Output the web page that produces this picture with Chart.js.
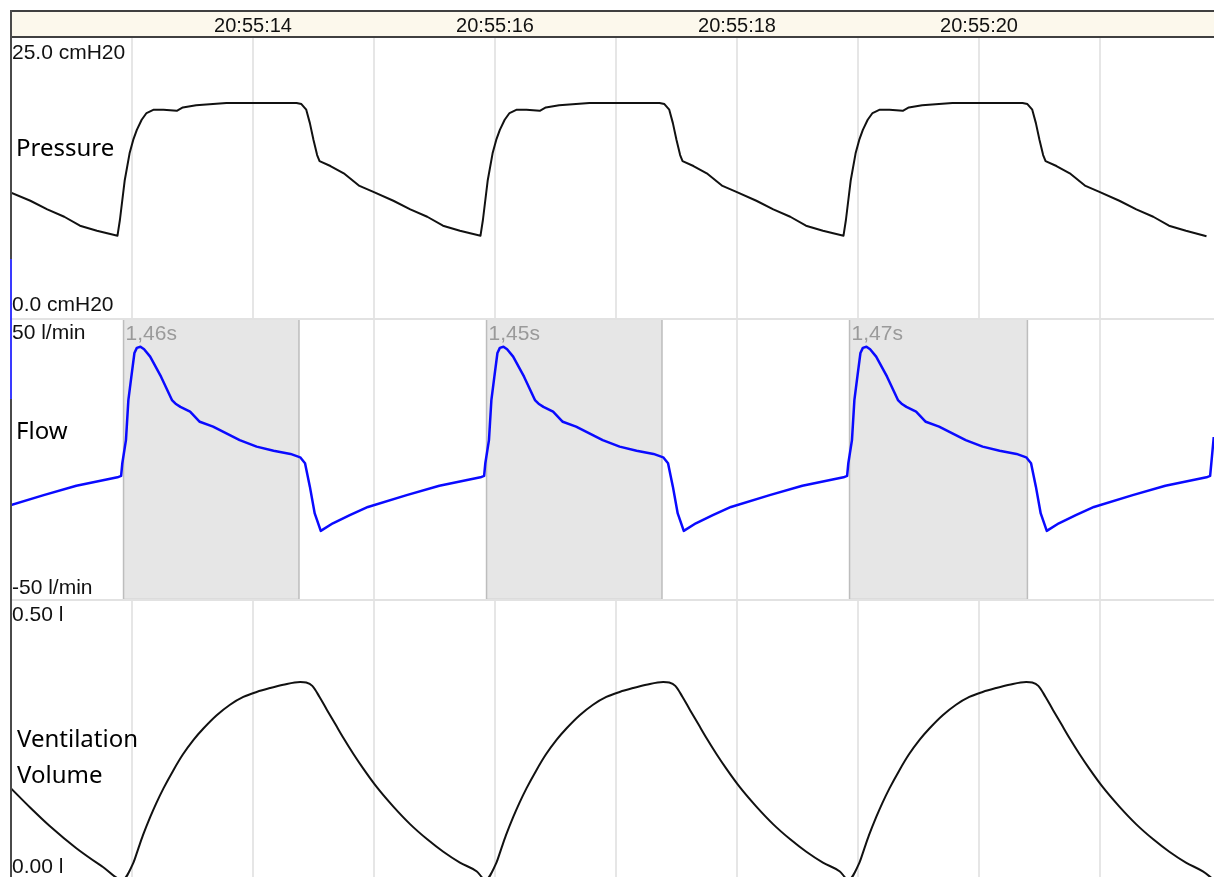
<!DOCTYPE html>
<html>
<head>
<meta charset="utf-8">
<script src="https://cdn.jsdelivr.net/npm/chart.js@4/dist/chart.umd.min.js"></script>
<style>
  body { margin: 0; background: #fff; }
  #wrap { position: relative; width: 1214px; height: 877px; overflow: hidden; background: #fff; }
  canvas { position: absolute; left: 11px; }
  .name { position: absolute; font-family: 'Noto Sans', sans-serif; font-size: 24px; line-height: 24px; color: #000; white-space: nowrap; }
  .deco { position: absolute; }
</style>
</head>
<body>
<div id="wrap">
  <div class="deco" style="left:10px; top:10px; width:1204px; height:28px; box-sizing:border-box; background:#fcf8ec; border-top:2px solid #404040; border-bottom:2px solid #404040;"></div>
  <canvas id="pressureChart" width="1203" height="318" style="top:0px;"></canvas>
  <canvas id="flowChart" width="1203" height="282" style="top:318px;"></canvas>
  <canvas id="volumeChart" width="1203" height="277" style="top:600px;"></canvas>
  <div class="deco" style="left:11px; top:318px; width:1203px; height:2px; background:#e2e2e2;"></div>
  <div class="deco" style="left:11px; top:599px; width:1203px; height:2px; background:#e2e2e2;"></div>
  <div class="deco" style="left:10px; top:10px; width:2px; height:867px; background:#4a4a4a;"></div>
  <div class="deco" style="left:10px; top:259px; width:2px; height:140px; background:#3a3aff;"></div>
  <div class="name" style="left:16px; top:135px;">Pressure</div>
  <div class="name" style="left:16px; top:418px;">Flow</div>
  <div class="name" style="left:17px; top:726px;">Ventilation</div>
  <div class="name" style="left:17px; top:762px;">Volume</div>
</div>
<script>
// time axis, in seconds after 20:55:00
const xMin = 12;
const xMax = 21.942;
const gridSeconds = [12, 13, 14, 15, 16, 17, 18, 19, 20, 21];
const labelSeconds = [14, 16, 18, 20];
const timeLabels = ['20:55:14', '20:55:16', '20:55:18', '20:55:20'];

// y ranges of the three panels
const pressureRange = [0, 25];
const flowRange = [-50, 50];
const volumeRange = [0, 0.5];

// pressure (cmH2O)
const pressureTime = [12.00, 12.16, 12.30, 12.44, 12.57, 12.71, 12.88,
  12.90, 12.94, 12.98, 13.01, 13.04, 13.08, 13.12, 13.18, 13.26, 13.37, 13.42, 13.53, 13.78, 14.36, 14.40, 14.44, 14.47, 14.50, 14.53, 14.55,
  14.64, 14.75, 14.88, 14.99, 15.16, 15.30, 15.44, 15.57, 15.71, 15.88,
  15.90, 15.94, 15.98, 16.01, 16.04, 16.08, 16.12, 16.18, 16.26, 16.37, 16.42, 16.53, 16.78, 17.36, 17.40, 17.44, 17.47, 17.50, 17.53, 17.55,
  17.64, 17.75, 17.88, 17.99, 18.16, 18.30, 18.44, 18.57, 18.71, 18.88,
  18.90, 18.94, 18.98, 19.01, 19.04, 19.08, 19.12, 19.18, 19.26, 19.37, 19.42, 19.53, 19.78, 20.36, 20.40, 20.44, 20.47, 20.50, 20.53, 20.55,
  20.64, 20.75, 20.88, 20.99, 21.16, 21.30, 21.44, 21.57, 21.71, 21.88];
const pressureValue = [11.2, 10.47, 9.70, 9.04, 8.24, 7.79, 7.35,
  8.75, 12.3, 14.7, 15.9, 16.8, 17.7, 18.3, 18.6, 18.6, 18.5, 18.8, 19.0, 19.2, 19.2, 19.1, 18.6, 17.4, 15.9, 14.55, 14.0,
  13.57, 12.92, 11.79, 11.28, 10.47, 9.70, 9.04, 8.24, 7.79, 7.35,
  8.75, 12.3, 14.7, 15.9, 16.8, 17.7, 18.3, 18.6, 18.6, 18.5, 18.8, 19.0, 19.2, 19.2, 19.1, 18.6, 17.4, 15.9, 14.55, 14.0,
  13.57, 12.92, 11.79, 11.28, 10.47, 9.70, 9.04, 8.24, 7.79, 7.35,
  8.75, 12.3, 14.7, 15.9, 16.8, 17.7, 18.3, 18.6, 18.6, 18.5, 18.8, 19.0, 19.2, 19.2, 19.1, 18.6, 17.4, 15.9, 14.55, 14.0,
  13.57, 12.92, 11.79, 11.28, 10.47, 9.70, 9.04, 8.24, 7.79, 7.3];

// flow (l/min)
const flowTime = [12.00, 12.27, 12.54, 12.88, 12.91,
  12.92, 12.95, 12.97, 13.00, 13.02, 13.04, 13.07, 13.10, 13.15, 13.24, 13.33, 13.36, 13.40, 13.48, 13.56, 13.67, 13.78, 13.89, 14.03, 14.17, 14.31, 14.39,
  14.43, 14.47, 14.51, 14.56, 14.66, 14.80, 14.95, 15.27, 15.54, 15.88, 15.91,
  15.92, 15.95, 15.97, 16.00, 16.02, 16.04, 16.07, 16.10, 16.15, 16.24, 16.33, 16.36, 16.40, 16.48, 16.56, 16.67, 16.78, 16.89, 17.03, 17.17, 17.31, 17.39,
  17.43, 17.47, 17.51, 17.56, 17.66, 17.80, 17.95, 18.27, 18.54, 18.88, 18.91,
  18.92, 18.95, 18.97, 19.00, 19.02, 19.04, 19.07, 19.10, 19.15, 19.24, 19.33, 19.36, 19.40, 19.48, 19.56, 19.67, 19.78, 19.89, 20.03, 20.17, 20.31, 20.39,
  20.43, 20.47, 20.51, 20.56, 20.66, 20.80, 20.95, 21.27, 21.54, 21.88, 21.91,
  21.92, 21.94];
const flowValue = [-16.3, -12.8, -9.5, -6.5, -6.0,
  -1.5, 6.7, 20.9, 31.0, 37.6, 39.4, 39.8, 38.9, 36.3, 29.2, 20.9, 19.6, 18.5, 16.8, 13.2, 11.5, 9.1, 6.7, 4.4, 2.9, 1.8, 0.6,
  -1.5, -9.8, -19.3, -25.5, -22.8, -19.9, -17.0, -12.8, -9.5, -6.5, -6.0,
  -1.5, 6.7, 20.9, 31.0, 37.6, 39.4, 39.8, 38.9, 36.3, 29.2, 20.9, 19.6, 18.5, 16.8, 13.2, 11.5, 9.1, 6.7, 4.4, 2.9, 1.8, 0.6,
  -1.5, -9.8, -19.3, -25.5, -22.8, -19.9, -17.0, -12.8, -9.5, -6.5, -6.0,
  -1.5, 6.7, 20.9, 31.0, 37.6, 39.4, 39.8, 38.9, 36.3, 29.2, 20.9, 19.6, 18.5, 16.8, 13.2, 11.5, 9.1, 6.7, 4.4, 2.9, 1.8, 0.6,
  -1.5, -9.8, -19.3, -25.5, -22.8, -19.9, -17.0, -12.8, -9.5, -6.5, -6.0,
  -1.5, 7.8];

// ventilation volume (l)
const volumeTime = [12.00, 12.16, 12.32, 12.54, 12.76, 12.92,
  13.01, 13.05, 13.09, 13.15, 13.20, 13.26, 13.34, 13.42, 13.51, 13.59, 13.70, 13.81, 13.92, 14.03, 14.14, 14.25, 14.39, 14.44,
  14.49, 14.55, 14.61, 14.68, 14.75, 14.83, 14.91, 15.02, 15.16, 15.30, 15.44, 15.57, 15.71, 15.85, 15.92,
  16.01, 16.05, 16.09, 16.15, 16.20, 16.26, 16.34, 16.42, 16.51, 16.59, 16.70, 16.81, 16.92, 17.03, 17.14, 17.25, 17.39, 17.44,
  17.49, 17.55, 17.61, 17.68, 17.75, 17.83, 17.91, 18.02, 18.16, 18.30, 18.44, 18.57, 18.71, 18.85, 18.92,
  19.01, 19.05, 19.09, 19.15, 19.20, 19.26, 19.34, 19.42, 19.51, 19.59, 19.70, 19.81, 19.92, 20.03, 20.14, 20.25, 20.39, 20.44,
  20.49, 20.55, 20.61, 20.68, 20.75, 20.83, 20.91, 21.02, 21.16, 21.30, 21.44, 21.57, 21.71, 21.85, 21.94];
const volumeValue = [0.160, 0.125, 0.092, 0.052, 0.018, -0.005,
  0.025, 0.050, 0.075, 0.108, 0.133, 0.160, 0.192, 0.221, 0.248, 0.268, 0.292, 0.311, 0.325, 0.334, 0.341, 0.347, 0.352, 0.351,
  0.345, 0.325, 0.302, 0.276, 0.250, 0.222, 0.196, 0.163, 0.127, 0.095, 0.068, 0.046, 0.026, 0.010, -0.005,
  0.025, 0.050, 0.075, 0.108, 0.133, 0.160, 0.192, 0.221, 0.248, 0.268, 0.292, 0.311, 0.325, 0.334, 0.341, 0.347, 0.352, 0.351,
  0.345, 0.325, 0.302, 0.276, 0.250, 0.222, 0.196, 0.163, 0.127, 0.095, 0.068, 0.046, 0.026, 0.010, -0.005,
  0.025, 0.050, 0.075, 0.108, 0.133, 0.160, 0.192, 0.221, 0.248, 0.268, 0.292, 0.311, 0.325, 0.334, 0.341, 0.347, 0.352, 0.351,
  0.345, 0.325, 0.302, 0.276, 0.250, 0.222, 0.196, 0.163, 0.127, 0.095, 0.068, 0.046, 0.026, 0.010, -0.005];

// inspiration markers on the flow panel
const boxStart = [12.93, 15.93, 18.93];
const boxEnd = [14.38, 17.38, 20.40];
const boxLabels = ['1,46s', '1,45s', '1,47s'];

const labelFont = '21px "Liberation Sans", Arial, sans-serif';

// min / max text in the corners of each panel
const rangeLabelPlugin = {
  id: 'rangeLabels',
  afterDraw(chart, args, opts) {
    const ctx = chart.ctx;
    const y = chart.scales.y;
    const area = chart.chartArea;
    ctx.save();
    ctx.font = labelFont;
    ctx.fillStyle = '#111';
    ctx.textAlign = 'left';
    ctx.textBaseline = 'middle';
    ctx.fillText(opts.top, area.left + 1, y.getPixelForValue(y.max) + 15);
    ctx.fillText(opts.bottom, area.left + 1, y.getPixelForValue(y.min) - opts.bottomGap);
    ctx.restore();
  }
};

const boxPlugin = {
  id: 'boxes',
  beforeDatasetsDraw(chart, args, opts) {
    if (!opts.show) return;
    const ctx = chart.ctx;
    const x = chart.scales.x;
    const area = chart.chartArea;
    ctx.save();
    for (let i = 0; i < boxStart.length; i++) {
      const x1 = x.getPixelForValue(boxStart[i]);
      const x2 = x.getPixelForValue(boxEnd[i]);
      ctx.fillStyle = '#e6e6e6';
      ctx.fillRect(x1, area.top + 1, x2 - x1, area.bottom - area.top - 1);
      ctx.strokeStyle = '#bdbdbd';
      ctx.lineWidth = 1.5;
      ctx.strokeRect(x1, area.top + 1, x2 - x1, area.bottom - area.top - 1.5);
      ctx.font = labelFont;
      ctx.fillStyle = '#9a9a9a';
      ctx.textBaseline = 'middle';
      ctx.fillText(boxLabels[i], x1 + 2, area.top + 16);
    }
    ctx.restore();
  }
};

function toPoints(times, values) {
  return times.map((t, i) => ({ x: t, y: values[i] }));
}

function createTrace(canvasId, times, values, color, width, smooth, range, topText, bottomText, bottomGap, showTime, showBoxes) {
  const ctx = document.getElementById(canvasId).getContext('2d');
  const dataset = {
    data: toPoints(times, values),
    borderColor: color,
    borderWidth: width,
    pointRadius: 0,
    tension: 0,
    fill: false,
    borderJoinStyle: 'round'
  };
  if (smooth) dataset.cubicInterpolationMode = 'monotone';
  return new Chart(ctx, {
    type: 'line',
    data: { datasets: [dataset] },
    options: {
      responsive: false,
      animation: false,
      events: [],
      layout: { padding: 0 },
      scales: {
        x: {
          type: 'linear',
          position: showTime ? 'top' : 'bottom',
          min: xMin,
          max: xMax,
          afterBuildTicks: s => { s.ticks = gridSeconds.map(v => ({ value: v })); },
          afterFit: s => {
            s.height = showTime ? 38 : 0;
            s.paddingLeft = 0;
            s.paddingRight = 0;
          },
          grid: { color: '#e6e6e6', lineWidth: 2, drawTicks: false },
          border: { display: false },
          ticks: {
            display: showTime,
            padding: 0,
            color: '#111',
            font: { family: '"Liberation Sans", Arial, sans-serif', size: 20 },
            maxRotation: 0,
            autoSkip: false,
            callback: v => {
              const i = labelSeconds.indexOf(v);
              return i >= 0 ? timeLabels[i] : '';
            }
          }
        },
        y: { display: false, min: range[0], max: range[1] }
      },
      plugins: {
        legend: { display: false },
        tooltip: { enabled: false },
        rangeLabels: { top: topText, bottom: bottomText, bottomGap: bottomGap },
        boxes: { show: showBoxes }
      }
    },
    plugins: [rangeLabelPlugin, boxPlugin]
  });
}

createTrace('pressureChart', pressureTime, pressureValue, '#111', 2, false, pressureRange,
  pressureRange[1].toFixed(1) + ' cmH20', pressureRange[0].toFixed(1) + ' cmH20', 13, true, false);
createTrace('flowChart', flowTime, flowValue, '#0a0aff', 2.5, false, flowRange,
  flowRange[1] + ' l/min', flowRange[0] + ' l/min', 12, false, true);
createTrace('volumeChart', volumeTime, volumeValue, '#111', 2, true, volumeRange,
  volumeRange[1].toFixed(2) + ' l', volumeRange[0].toFixed(2) + ' l', 10, false, false);
</script>
</body>
</html>
